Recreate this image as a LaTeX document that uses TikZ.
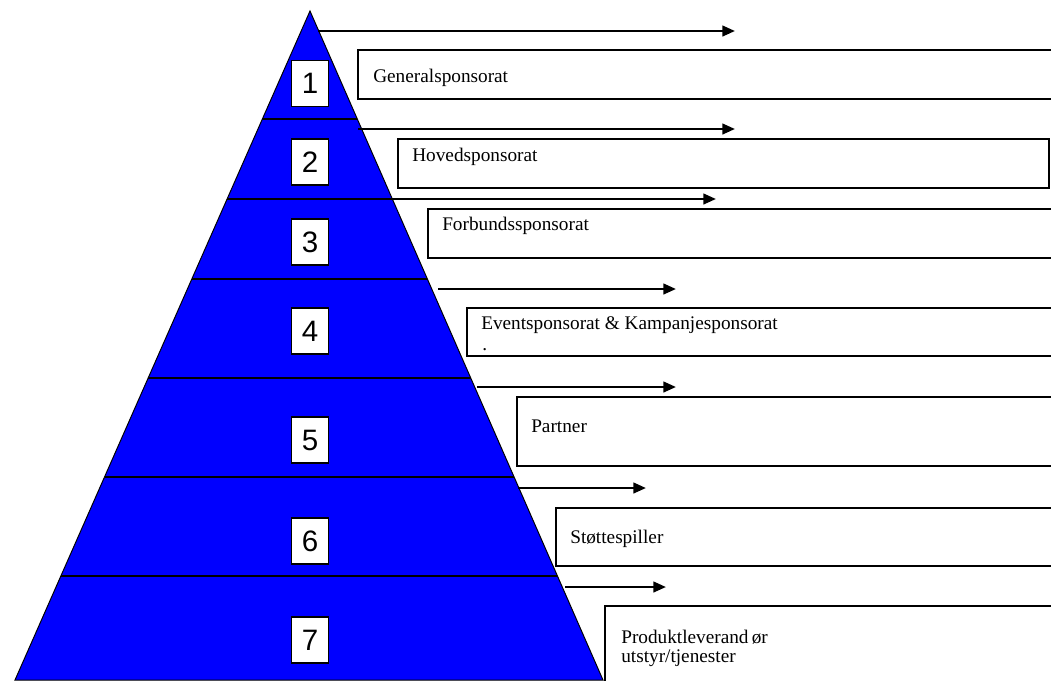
\documentclass[tikz,border=0pt]{standalone}
\usepackage{fontspec}
\setmainfont{Liberation Serif}
\newfontfamily\numfont{Liberation Sans}
\usepackage{tikz}
\usetikzlibrary{arrows.meta,calc,positioning}

\tikzset{
  pyr/.style={draw=black, line width=0.7pt, fill={rgb,255:red,0;green,0;blue,255}},
  tierline/.style={line width=1.4pt},
  tierarrow/.style={line width=1.8pt, -{Triangle[length=9pt,width=7.5pt]}},
  tierbox/.style={draw, line width=1pt, fill=white},
  numbox/.style={draw, line width=0.9pt, fill=white, minimum width=0.925cm, minimum height=1.15cm, inner sep=0pt, font=\numfont\fontsize{21}{21}\selectfont},
  tiertext/.style={anchor=base west, inner sep=0pt, font=\fontsize{13.7}{16}\selectfont}
}

\begin{document}
\begin{tikzpicture}[x=0.025cm, y=-0.025cm]
  \useasboundingbox (0,0) rectangle (1051,680);
  \clip (0,0) rectangle (1051,680);

  % pyramid
  \coordinate (apex) at (310,11);
  \coordinate (bl) at (15,680);
  \coordinate (br) at (603,680);
  \draw[pyr] (apex) -- (br) -- (bl) -- cycle;

  \draw[tierline] ($(apex)!0.1614!(bl)$) -- ($(apex)!0.1614!(br)$);
  \draw[tierline] ($(apex)!0.2810!(bl)$) -- ($(apex)!0.2810!(br)$);
  \draw[tierline] ($(apex)!0.4006!(bl)$) -- ($(apex)!0.4006!(br)$);
  \draw[tierline] ($(apex)!0.5486!(bl)$) -- ($(apex)!0.5486!(br)$);
  \draw[tierline] ($(apex)!0.6966!(bl)$) -- ($(apex)!0.6966!(br)$);
  \draw[tierline] ($(apex)!0.8445!(bl)$) -- ($(apex)!0.8445!(br)$);

  \node[numbox] (n1) at (310,83.5) {1};
  \node[numbox] (n2) at (310,162) {2};
  \node[numbox] (n3) at (310,242) {3};
  \node[numbox] (n4) at (310,331) {4};
  \node[numbox] (n5) at (310,440) {5};
  \node[numbox] (n6) at (310,541) {6};
  \node[numbox] (n7) at (310,640) {7};

  % arrows
  \coordinate (s1) at (318,31);  \coordinate (e1) at (735,31);
  \coordinate (s2) at (358,129); \coordinate (e2) at (735,129);
  \coordinate (s3) at (388,199); \coordinate (e3) at (716,199);
  \coordinate (s4) at (438,289); \coordinate (e4) at (676,289);
  \coordinate (s5) at (477,387); \coordinate (e5) at (676,387);
  \coordinate (s6) at (518,488); \coordinate (e6) at (646,488);
  \coordinate (s7) at (565,587); \coordinate (e7) at (666,587);
  \draw[tierarrow] (s1) -- (e1);
  \draw[tierarrow] (s2) -- (e2);
  \draw[tierarrow] (s3) -- (e3);
  \draw[tierarrow] (s4) -- (e4);
  \draw[tierarrow] (s5) -- (e5);
  \draw[tierarrow] (s6) -- (e6);
  \draw[tierarrow] (s7) -- (e7);

  % boxes
  \draw[tierbox] (358,50) rectangle (1060,99);
  \draw[tierbox] (398,139) rectangle (1049,188);
  \draw[tierbox] (428,209) rectangle (1060,258);
  \draw[tierbox] (467,308) rectangle (1060,356);
  \draw[tierbox] (517,397) rectangle (1060,466);
  \draw[tierbox] (556,508) rectangle (1060,566);
  \draw[tierbox] (605,606) rectangle (1060,700);

  \node[tiertext] (t1) at (373,82) {Generalsponsorat};
  \node[tiertext] (t2) at (412,161) {Hovedsponsorat};
  \node[tiertext] (t3) at (442,230) {Forbundssponsorat};
  \node[tiertext] (t4) at (481,329) {Eventsponsorat \& Kampanjesponsorat};
  \node[tiertext] (t4b) at (482,350) {.};
  \node[tiertext] (t5) at (531,432) {Partner};
  \node[tiertext] (t6) at (570,543) {Støttespiller};
  \node[tiertext] (t7) at (621,643) {Produktleverand\,ør};
  \node[tiertext] (t7b) at (621,662) {utstyr/tjenester};
\end{tikzpicture}
\end{document}
